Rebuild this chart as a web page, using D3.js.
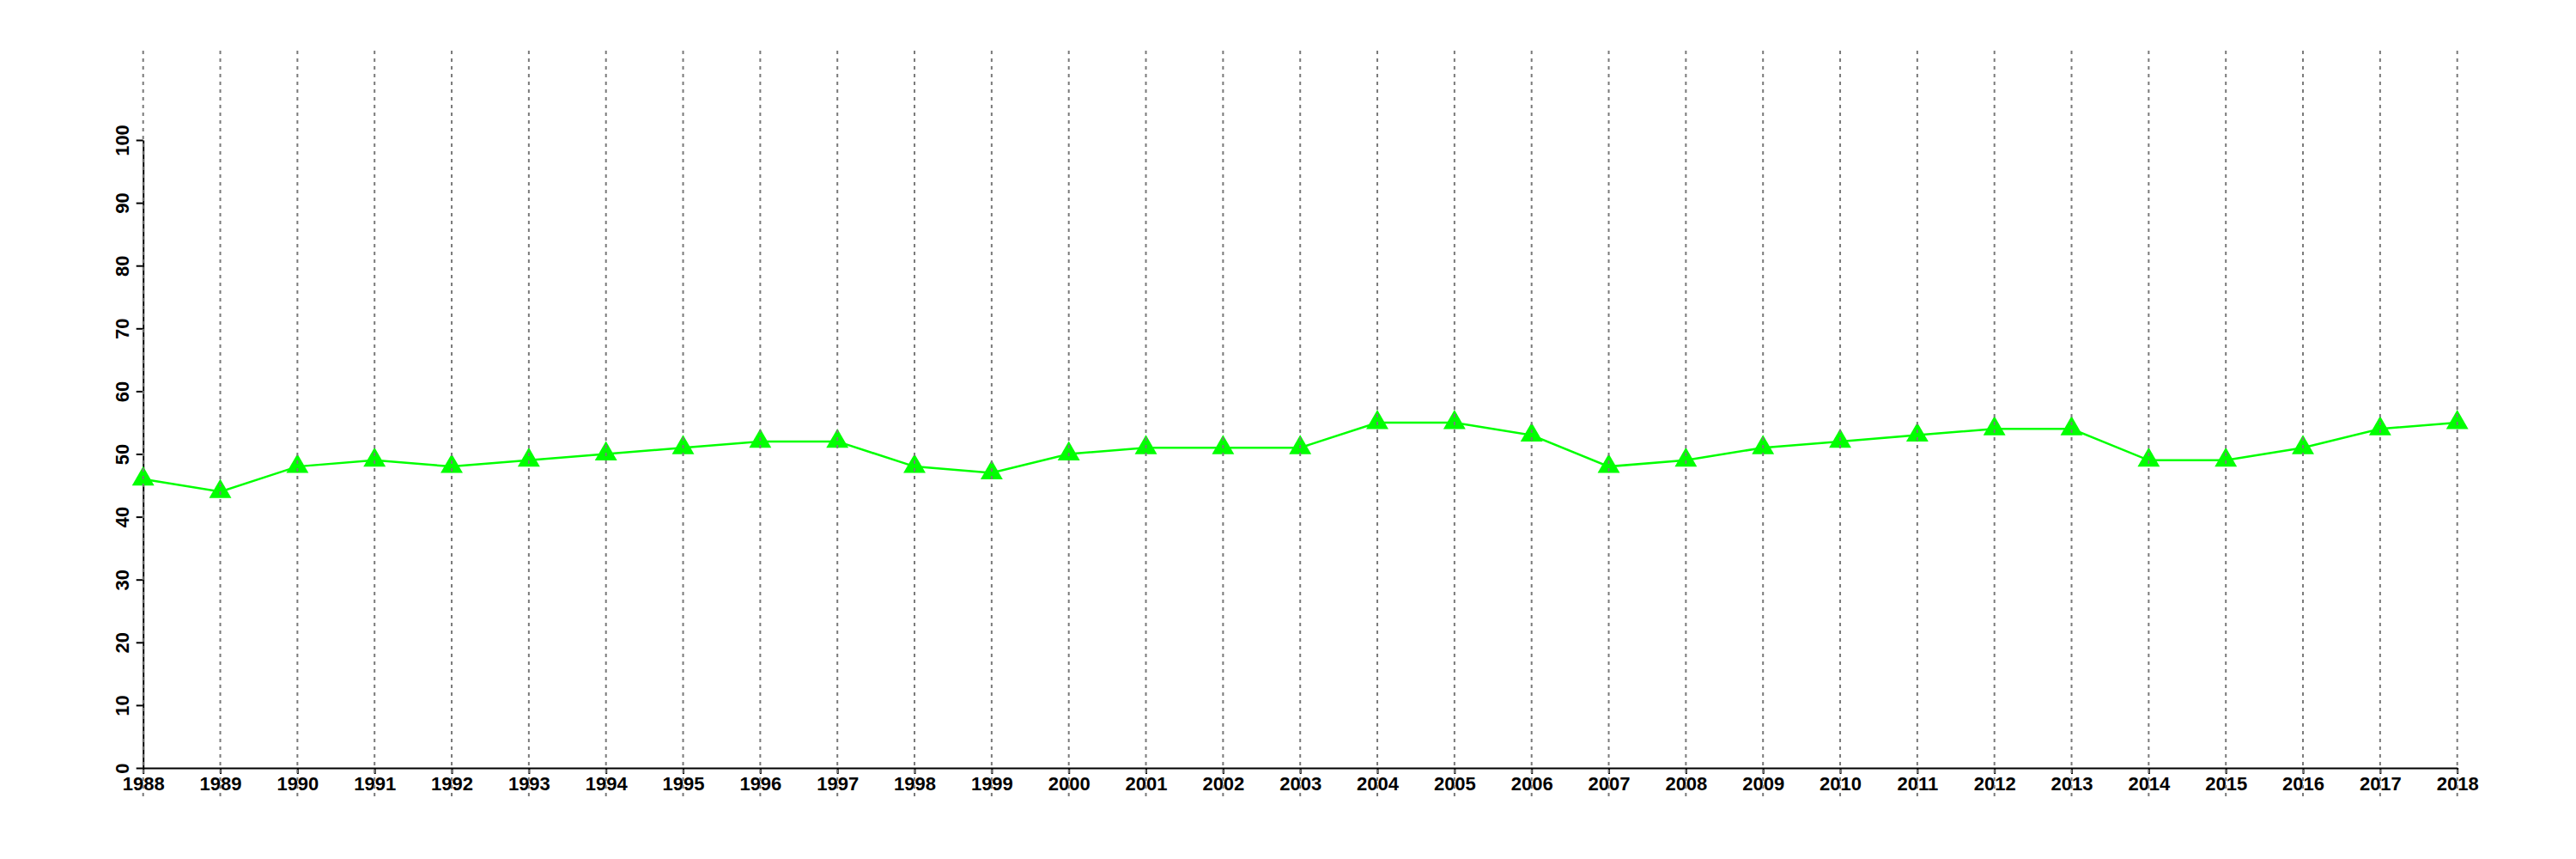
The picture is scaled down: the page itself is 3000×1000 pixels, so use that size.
<!DOCTYPE html>
<html>
<head>
<meta charset="utf-8">
<script src="https://cdn.jsdelivr.net/npm/d3@7"></script>
<style>
  html, body { margin: 0; padding: 0; background: #fff; }
  text { font-family: "Liberation Sans", Arial, Helvetica, sans-serif; font-weight: bold; }
</style>
</head>
<body>
<svg id="chart" width="3000" height="1000"></svg>
<script>
const years = [1988,1989,1990,1991,1992,1993,1994,1995,1996,1997,1998,1999,2000,2001,2002,2003,2004,2005,2006,2007,2008,2009,2010,2011,2012,2013,2014,2015,2016,2017,2018];
const values = [46,44,48,49,48,49,50,51,52,52,48,47,50,51,51,51,55,55,53,48,49,51,52,53,54,54,49,49,51,54,55];
const yTicks = [0,10,20,30,40,50,60,70,80,90,100];

const svg = d3.select("#chart");
const x = d3.scaleLinear().domain([1988, 2018]).range([166.7, 2861.7]);
const y = d3.scaleLinear().domain([0, 100]).range([894, 163]);

// y axis
const yAxis = svg.append("g").attr("transform", `translate(${x(1988)},0)`)
  .call(d3.axisLeft(y).tickValues(yTicks).tickSize(8).tickSizeOuter(0).tickFormat(d3.format("d")));
yAxis.select(".domain").attr("stroke", "#000").attr("stroke-width", 2);
yAxis.selectAll(".tick line").attr("stroke", "#000").attr("stroke-width", 2);
yAxis.selectAll(".tick text")
  .attr("x", null).attr("dy", null)
  .attr("text-anchor", "middle")
  .attr("font-size", 22)
  .attr("fill", "#000")
  .attr("transform", "translate(-17,0) rotate(-90)");

// x axis
const xAxis = svg.append("g").attr("transform", `translate(0,${y(0)})`)
  .call(d3.axisBottom(x).tickValues(years).tickSize(7).tickSizeOuter(0).tickFormat(d3.format("d")));
xAxis.select(".domain").attr("stroke", "#000").attr("stroke-width", 2);
xAxis.selectAll(".tick line").attr("stroke", "#000").attr("stroke-width", 2);
xAxis.selectAll(".tick text")
  .attr("y", 26).attr("dy", null)
  .attr("font-size", 22)
  .attr("fill", "#000");

// series line
svg.append("path")
  .datum(years.map((yr, i) => [yr, values[i]]))
  .attr("fill", "none")
  .attr("stroke", "#00ff00")
  .attr("stroke-width", 2.5)
  .attr("d", d3.line().x(d => x(d[0])).y(d => y(d[1])));

// markers
svg.append("g").selectAll("path")
  .data(years.map((yr, i) => [yr, values[i]]))
  .join("path")
  .attr("transform", d => `translate(${x(d[0])},${y(d[1])})`)
  .attr("d", d3.symbol().type(d3.symbolTriangle).size(290))
  .attr("fill", "#00ff00");

// vertical dotted grid lines on top
svg.append("g").selectAll("line")
  .data(years)
  .join("line")
  .attr("x1", d => x(d)).attr("x2", d => x(d))
  .attr("y1", 59).attr("y2", 929)
  .attr("stroke", "#7a7a7a")
  .attr("stroke-width", 2)
  .attr("stroke-dasharray", "4,5");
</script>
</body>
</html>
